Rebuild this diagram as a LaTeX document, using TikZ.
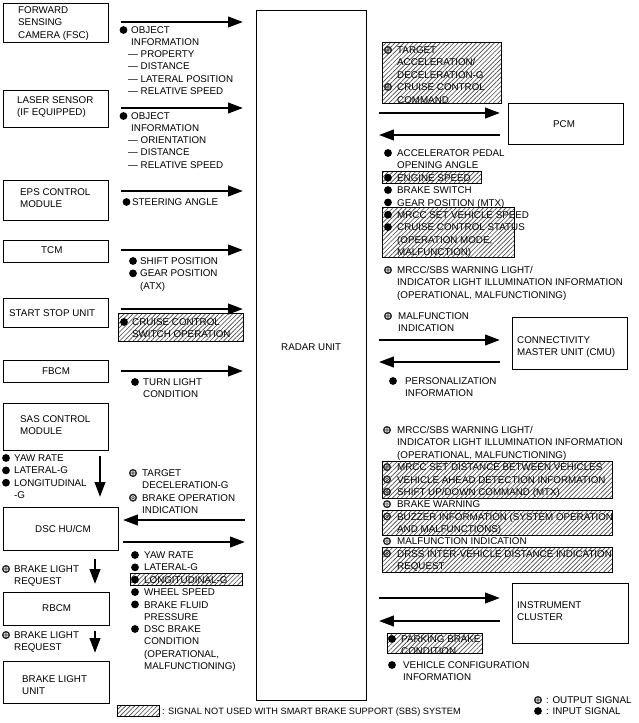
\documentclass[tikz,border=0pt]{standalone}
\usepackage{fontspec}
\setmainfont{Liberation Sans}
\usetikzlibrary{arrows.meta,patterns.meta,calc}
\newcommand\bul[2]{\fill (#1,#2) circle[radius=3.9pt];}
\newcommand\osig[2]{\draw[line width=1.4pt,black!85] (#1,#2) circle[radius=3.3pt];\draw[line width=0.6pt,black!75] (#1,#2) circle[radius=1.4pt];}
\newcommand\tx[4]{\node[txt] (#1) at (#2,{#3-5.6}) {\rule{0pt}{9pt}#4};}
\newcommand\hbx[4]{\draw[hatch] (#1,#2) rectangle (#3,#4);}
\newcommand\toR[2]{\draw[sig] (#1.east |- 0,#2) ++(12,0) -- ([xshift=-13pt]radar.west |- 0,#2);}
\begin{document}
\begin{tikzpicture}[x=1pt,y=-1pt,
 box/.style={draw,line width=0.9pt,inner sep=0,anchor=north west},
 txt/.style={anchor=north west,inner sep=0,align=left,font=\fontsize{9.8}{12.35}\selectfont},
 sig/.style={line width=2.5pt,-{Triangle[length=15pt,width=10.5pt]}},
 hatch/.style={draw,line width=0.6pt,pattern={Lines[angle=45,distance=3.2pt,line width=0.65pt]},pattern color=black!72},
]
\useasboundingbox (0,0) rectangle (639,723);
% boxes
\node[box,minimum width=105,minimum height=39] (fsc) at (3,3) {};
\node[box,minimum width=105,minimum height=37] (laser) at (3,90) {};
\node[box,minimum width=105,minimum height=40] (eps) at (3,180) {};
\node[box,minimum width=105,minimum height=22] (tcm) at (3,240) {};
\node[box,minimum width=105,minimum height=29] (ssu) at (3,298) {};
\node[box,minimum width=105,minimum height=22] (fbcm) at (3,360) {};
\node[box,minimum width=105,minimum height=47] (sas) at (3,403) {};
\node[box,minimum width=115,minimum height=43] (dsc) at (3,507) {};
\node[box,minimum width=106,minimum height=33] (rbcm) at (3,592) {};
\node[box,minimum width=106,minimum height=42] (blu) at (3,661) {};
\node[box,minimum width=110,minimum height=690] (radar) at (256,10) {};
\node[box,minimum width=115,minimum height=41] (pcm) at (508,103) {};
\node[box,minimum width=115,minimum height=52] (cmu) at (512,317) {};
\node[box,minimum width=116,minimum height=60] (ic) at (512,583) {};
% box texts
\tx{fscT}{18}{10}{FORWARD\\SENSING\\CAMERA (FSC)}
\tx{laserT}{17}{100}{LASER SENSOR\\(IF EQUIPPED)}
\tx{epsT}{20}{192}{EPS CONTROL\\MODULE}
\tx{tcmT}{41}{250}{TCM}
\tx{ssuT}{9}{313}{START STOP UNIT}
\tx{fbcmT}{42}{371}{FBCM}
\tx{sasT}{20}{419}{SAS CONTROL\\MODULE}
\tx{dscT}{35}{529}{DSC HU/CM}
\tx{rbcmT}{42}{608}{RBCM}
\tx{bluT}{22}{679}{BRAKE LIGHT\\UNIT}
\tx{radarT}{281}{347}{RADAR UNIT}
\tx{pcmT}{553}{124}{PCM}
\tx{cmuT}{517}{340}{CONNECTIVITY\\MASTER UNIT (CMU)}
\tx{icT}{517}{605}{INSTRUMENT\\CLUSTER}
% hatched areas
\hbx{118}{313}{243}{341}
\hbx{130}{573}{242}{585}
\hbx{382}{42}{501}{103}
\hbx{382}{171}{481}{183}
\hbx{382}{207}{514}{257}
\hbx{382}{461}{612}{498}
\hbx{382}{510}{612}{535}
\hbx{382}{547}{612}{572}
\hbx{387}{633}{482}{653}
\hbx{117}{705}{159}{716}
% left arrows
\toR{fsc}{22}
\toR{laser}{108}
\toR{eps}{191}
\toR{tcm}{250}
\toR{ssu}{309}
\toR{fbcm}{371}
\draw[sig] ([xshift=-11pt]radar.west |- 0,520) -- ([xshift=4pt]dsc.east |- 0,520);
\draw[sig] ([xshift=4pt]dsc.east |- 0,542) -- ([xshift=-11pt]radar.west |- 0,542);
\draw[sig] ([yshift=-5pt]sas.south -| 100,0) -- ([yshift=10pt]dsc.north -| 100,0);
\draw[sig] ([yshift=-8pt]dsc.south -| 95,0) -- ([yshift=8pt]rbcm.north -| 95,0);
\draw[sig] ([yshift=-5pt]rbcm.south -| 95,0) -- ([yshift=8pt]blu.north -| 95,0);
% right arrows
\draw[sig] ([xshift=12pt]radar.east |- 0,113) -- ([xshift=-8pt]pcm.west |- 0,113);
\draw[sig] ([xshift=-8pt]pcm.west |- 0,135) -- ([xshift=12pt]radar.east |- 0,135);
\draw[sig] ([xshift=12pt]radar.east |- 0,340) -- ([xshift=-12pt]cmu.west |- 0,340);
\draw[sig] ([xshift=-12pt]cmu.west |- 0,362) -- ([xshift=12pt]radar.east |- 0,362);
\draw[sig] ([xshift=12pt]radar.east |- 0,598) -- ([xshift=-12pt]ic.west |- 0,598);
\draw[sig] ([xshift=-12pt]ic.west |- 0,621) -- ([xshift=12pt]radar.east |- 0,621);
% left signal texts
\bul{123.5}{30}
\tx{s1}{131}{30}{OBJECT\\INFORMATION}
\tx{s1b}{128}{54}{— PROPERTY\\— DISTANCE\\— LATERAL POSITION\\— RELATIVE SPEED}
\bul{123.5}{116}
\tx{s2}{131}{116}{OBJECT\\INFORMATION}
\tx{s2b}{128}{140}{— ORIENTATION\\— DISTANCE\\— RELATIVE SPEED}
\bul{126.5}{202}
\tx{s3}{132}{202}{STEERING ANGLE}
\bul{133}{261}\bul{133}{273.35}
\tx{s4}{140}{261}{SHIFT POSITION\\GEAR POSITION\\(ATX)}
\bul{124}{322}
\tx{s5}{132}{322}{CRUISE CONTROL\\SWITCH OPERATION}
\bul{135}{382}
\tx{s6}{143}{382}{TURN LIGHT\\CONDITION}
\bul{6}{458}\bul{6}{470.35}\bul{6}{482.7}
\tx{s7}{14}{458}{YAW RATE\\LATERAL-G\\LONGITUDINAL\\-G}
\osig{133}{473}\osig{133}{497.7}
\tx{s8}{142}{473}{TARGET\\DECELERATION-G\\BRAKE OPERATION\\INDICATION}
\bul{135}{555}\bul{135}{567.35}\bul{135}{579.7}\bul{135}{592.05}\bul{135}{604.4}\bul{135}{629}
\tx{s9}{144}{555}{YAW RATE\\LATERAL-G\\LONGITUDINAL-G\\WHEEL SPEED\\BRAKE FLUID\\PRESSURE}
\tx{s9b}{144}{629}{DSC BRAKE\\CONDITION\\(OPERATIONAL,\\MALFUNCTIONING)}
\osig{6}{569}
\tx{s10}{14}{569}{BRAKE LIGHT\\REQUEST}
\osig{6}{635}
\tx{s11}{14}{635}{BRAKE LIGHT\\REQUEST}
% right signal texts
\osig{388}{50}\osig{388}{87}
\tx{r1}{397}{50}{TARGET\\ACCELERATION/\\DECELERATION-G\\CRUISE CONTROL\\COMMAND}
\bul{388}{153}\bul{388}{177.7}\bul{388}{190.05}\bul{388}{202.4}\bul{388}{214.75}\bul{388}{227.1}
\tx{r2}{397}{153}{ACCELERATOR PEDAL\\OPENING ANGLE\\ENGINE SPEED\\BRAKE SWITCH\\GEAR POSITION (MTX)\\MRCC SET VEHICLE SPEED\\CRUISE CONTROL STATUS\\(OPERATION MODE,\\MALFUNCTION)}
\osig{388}{270}
\tx{r3}{397}{270}{MRCC/SBS WARNING LIGHT/\\INDICATOR LIGHT ILLUMINATION INFORMATION\\(OPERATIONAL, MALFUNCTIONING)}
\osig{388}{316}
\tx{r4}{398}{316}{MALFUNCTION\\INDICATION}
\bul{393}{381}
\tx{r5}{405}{381}{PERSONALIZATION\\INFORMATION}
\foreach \yy in {430,467.05,479.4,491.75,504.1,516.45,541.15,553.5} {\osig{387}{\yy}}
\tx{r6}{397}{430}{MRCC/SBS WARNING LIGHT/\\INDICATOR LIGHT ILLUMINATION INFORMATION\\(OPERATIONAL, MALFUNCTIONING)\\MRCC SET DISTANCE BETWEEN VEHICLES\\VEHICLE AHEAD DETECTION INFORMATION\\SHIFT UP/DOWN COMMAND (MTX)\\BRAKE WARNING\\BUZZER INFORMATION (SYSTEM OPERATION\\AND MALFUNCTIONS)\\MALFUNCTION INDICATION\\DRSS INTER-VEHICLE DISTANCE INDICATION\\REQUEST}
\bul{392}{639}
\tx{r7}{401}{639}{PARKING BRAKE\\CONDITION}
\bul{392}{665}
\tx{r8}{403}{665}{VEHICLE CONFIGURATION\\INFORMATION}
% legend
\node[txt,font=\fontsize{9.2}{11}\selectfont] (leg1) at (162,705.4) {\rule{0pt}{9pt}: SIGNAL NOT USED WITH SMART BRAKE SUPPORT (SBS) SYSTEM};
\osig{538}{700}
\tx{leg2}{546}{700}{: OUTPUT SIGNAL}
\bul{538}{711}
\tx{leg3}{546}{711}{: INPUT SIGNAL}
\end{tikzpicture}
\end{document}
